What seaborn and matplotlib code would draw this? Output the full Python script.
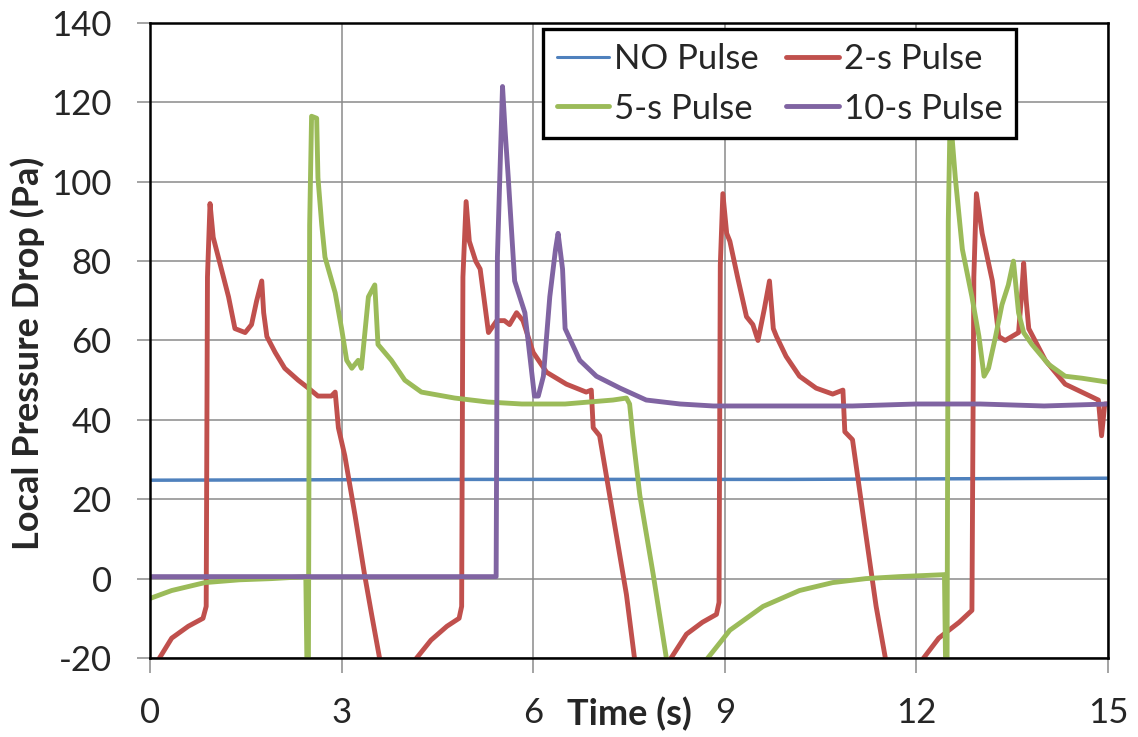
import numpy as np
import pandas as pd
import seaborn as sns
import matplotlib
matplotlib.use('Agg')
import matplotlib.pyplot as plt

# series (time in s, pressure drop in Pa)
no_t = [0.0, 5.0, 10.0, 15.0]
no_p = [24.8, 25.0, 25.0, 25.3]

two_t = [0.13, 0.34, 0.6, 0.83, 0.88, 0.9, 0.94, 0.99, 1.07, 1.23, 1.33, 1.49, 1.59, 1.67, 1.75, 1.78,
         1.83, 1.96, 2.11, 2.32, 2.48, 2.63, 2.84, 2.9, 2.95, 3.05, 3.21, 3.36, 3.47, 3.6, 3.85,
         4.15, 4.4, 4.65, 4.84, 4.88, 4.9, 4.95, 5.0, 5.1, 5.17, 5.3, 5.43, 5.55, 5.63, 5.74, 5.84,
         6.0, 6.21, 6.52, 6.83, 6.91, 6.94, 7.04, 7.25, 7.46, 7.59, 7.85,
         8.14, 8.4, 8.65, 8.87, 8.91, 8.93, 8.97, 9.03, 9.08, 9.2, 9.34, 9.44, 9.52, 9.62, 9.7, 9.76,
         9.81, 9.96, 10.17, 10.43, 10.69, 10.85, 10.88, 11.0, 11.21, 11.37, 11.52, 11.8,
         12.09, 12.35, 12.67, 12.87, 12.9, 12.94, 13.03, 13.19, 13.29, 13.39, 13.6, 13.65, 13.68,
         13.72, 13.76, 14.02, 14.33, 14.59, 14.85, 14.9, 14.95, 15.0]
two_p = [-20.5, -15, -12, -10, -7, 76, 94.5, 86, 81, 71, 63, 62, 64, 70, 75, 67,
         61, 57, 53, 50, 48, 46, 46, 47, 38, 31, 16, 1, -9, -20.5, -42,
         -20.5, -15.5, -12, -10, -7, 76, 95, 85, 80, 78, 62, 65, 65, 64, 67, 65,
         57, 52, 49, 47, 47.5, 38, 36, 16, -4, -20.5, -42,
         -20.5, -14, -11, -9, -6, 79, 97, 87, 85, 76, 66, 64, 60, 68, 75, 63,
         61, 56, 51, 48, 46.5, 47.5, 37, 35, 11, -7, -20.5, -45,
         -20.5, -15, -11, -8, 76, 97, 87, 75, 61, 60, 62, 72, 79.5,
         70, 63, 55, 49, 47, 45, 36, 44, 44]

five_t = [0.0, 0.34, 0.86, 1.4, 1.9, 2.44, 2.46, 2.48, 2.5, 2.53, 2.61, 2.63, 2.69, 2.74, 2.9, 3.0,
          3.08, 3.16, 3.26, 3.31, 3.42, 3.52, 3.57, 3.78, 3.99, 4.25, 4.77, 5.29, 5.82, 6.5, 7.25,
          7.46, 7.51, 7.56, 7.67, 7.88, 8.09, 8.4, 8.71, 9.08, 9.6, 10.17, 10.69, 11.21, 11.73,
          12.44, 12.46, 12.48, 12.5, 12.53, 12.56, 12.61, 12.72, 12.87, 12.98, 13.06, 13.13, 13.24,
          13.34, 13.44, 13.52, 13.6, 13.68, 13.81, 14.07, 14.33, 14.59, 15.0]
five_p = [-5, -3, -1, -0.3, 0, 0.5, -25, -25, 89, 116.5, 116, 101, 89, 81, 72, 63,
          55, 53, 55, 53, 71, 74, 59, 55, 50, 47, 45.5, 44.5, 44, 44, 45,
          45.5, 44, 36, 21, 1, -20.5, -40, -20.5, -13, -7, -3, -1, 0, 0.5,
          1, -25, -25, 90, 118, 111, 101, 83, 71, 61, 51, 53, 61,
          69, 74, 80, 67, 62, 59, 54, 51, 50.5, 49.5]

ten_t = [0.0, 2.0, 4.0, 5.42, 5.44, 5.52, 5.56, 5.61, 5.71, 5.87, 6.02, 6.08, 6.16, 6.26, 6.35,
         6.39, 6.46, 6.5, 6.73, 6.99, 7.36, 7.77, 8.3, 8.82, 10.0, 11.0, 12.0, 13.0, 14.0, 15.0]
ten_p = [0.5, 0.5, 0.5, 0.5, 81, 124, 113, 101, 75, 67, 46, 46, 51, 71, 83,
         87, 78, 63, 55, 51, 48, 45, 44, 43.5, 43.5, 43.5, 44, 44, 43.5, 44]

labels = ['NO Pulse', '2-s Pulse', '5-s Pulse', '10-s Pulse']
colors = ['#4F81BD', '#C0504D', '#9BBB59', '#8064A2']

df = pd.concat([
    pd.DataFrame({'t': no_t, 'p': no_p, 'case': labels[0]}),
    pd.DataFrame({'t': two_t, 'p': two_p, 'case': labels[1]}),
    pd.DataFrame({'t': five_t, 'p': five_p, 'case': labels[2]}),
    pd.DataFrame({'t': ten_t, 'p': ten_p, 'case': labels[3]}),
], ignore_index=True)

sns.set_style('white')
plt.rcParams['font.family'] = ['Lato', 'DejaVu Sans']
plt.rcParams['axes.unicode_minus'] = False

fig = plt.figure(figsize=(11.38, 7.37), dpi=100)
ax = fig.add_axes([0.1318, 0.1072, 0.8418, 0.8616])

sns.lineplot(data=df, x='t', y='p', hue='case', hue_order=labels, palette=colors,
             estimator=None, sort=False, linewidth=3.5, ax=ax)
ax.lines[0].set_linewidth(2.5)

ax.set_xlim(0, 15)
ax.set_ylim(-20, 140)
ax.set_xticks(np.arange(0, 16, 3))
ax.set_yticks(np.arange(-20, 141, 20))
ax.grid(True, color='#8a8a8a', linewidth=1.1)
ax.set_axisbelow(True)
for s in ax.spines.values():
    s.set_color('black')
    s.set_linewidth(1.8)
    s.set_visible(True)

ax.tick_params(axis='y', direction='out', length=9.5, width=1.1, color='#8a8a8a',
               labelsize=25, pad=18, left=True)
ax.tick_params(axis='x', direction='out', length=11, width=1.1, color='#8a8a8a',
               labelsize=25, pad=17, bottom=True)

ax.set_ylabel('Local Pressure Drop (Pa)', fontsize=26, fontweight='bold')
ax.yaxis.set_label_coords(-0.11, 0.48)
ax.set_xlabel('Time (s)', fontsize=26, fontweight='bold')
ax.xaxis.set_label_coords(0.5, -0.088)
ax.xaxis.label.set_va('center')

# legend filled row by row like the original
h, l = ax.get_legend_handles_labels()
order = [0, 2, 1, 3]
leg = ax.legend([h[i] for i in order], [l[i] for i in order],
                loc='upper left', bbox_to_anchor=(0.41, 0.99), borderaxespad=0, ncol=2,
                fontsize=25, frameon=True, fancybox=False, framealpha=1, edgecolor='black',
                handlelength=1.5, handletextpad=0.15, columnspacing=0.8, borderpad=0.4,
                labelspacing=0.5)
leg.get_frame().set_linewidth(2.4)
for line in leg.get_lines():
    line.set_linewidth(3.5)
leg.get_lines()[0].set_linewidth(2.2)

fig.savefig('out.png', dpi=100)
